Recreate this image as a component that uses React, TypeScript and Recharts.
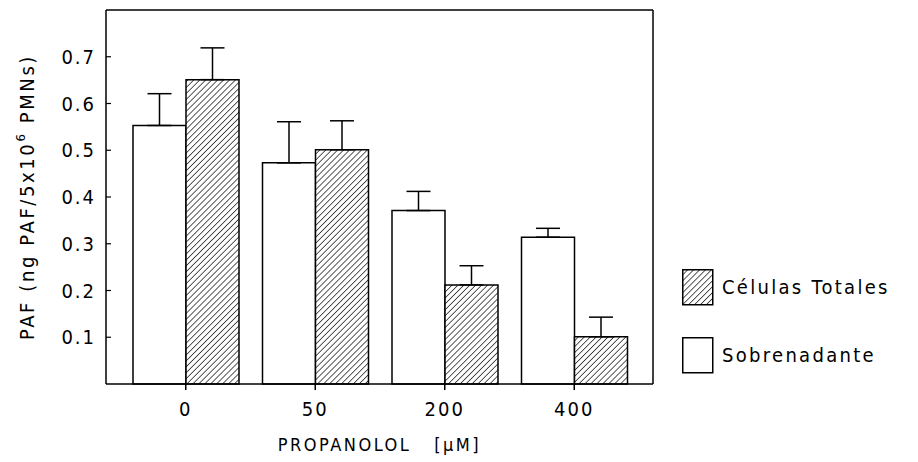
import React from "react";
import { BarChart, Bar, XAxis, YAxis, ErrorBar, Legend, ReferenceLine } from "recharts";

const doses = ["0", "50", "200", "400"];
const sobrenadante = [0.553, 0.473, 0.371, 0.314];
const sobrenadanteErr = [0.068, 0.088, 0.041, 0.019];
const celulas = [0.651, 0.501, 0.212, 0.101];
const celulasErr = [0.068, 0.062, 0.041, 0.042];
const yTicks = [0.1, 0.2, 0.3, 0.4, 0.5, 0.6, 0.7];
const yMax = 0.8;

const data = doses.map((d, i) => ({
  dose: d,
  sob: sobrenadante[i],
  sobErr: [0, sobrenadanteErr[i]],
  cel: celulas[i],
  celErr: [0, celulasErr[i]],
}));

const FONT = "'Liberation Sans Narrow', 'DejaVu Sans Condensed', sans-serif";

const HatchDef = ({ id }: { id: string }) => (
  <defs>
    <pattern id={id} patternUnits="userSpaceOnUse" width={4.2} height={4.2} patternTransform="rotate(45)">
      <rect width={4.2} height={4.2} fill="#fff" />
      <line x1={0} y1={0} x2={0} y2={4.2} stroke="#000" strokeWidth={1.3} />
    </pattern>
  </defs>
);

const renderLegend = (props: any) => {
  const items = [...(props.payload || [])].sort((a: any, b: any) =>
    a.dataKey === "cel" ? -1 : b.dataKey === "cel" ? 1 : 0
  );
  return (
    <div style={{ display: "flex", flexDirection: "column", gap: 32 }}>
      {items.map((it: any) => {
        const hatched = it.dataKey === "cel";
        return (
          <div key={it.value} style={{ display: "flex", alignItems: "center", height: 36 }}>
            <svg width={32} height={37} style={{ display: "block" }}>
              {hatched && <HatchDef id="hatchLegend" />}
              <rect x={0.75} y={0.75} width={30} height={35} fill={hatched ? "url(#hatchLegend)" : "#fff"} stroke="#000" strokeWidth={1.5} />
            </svg>
            <span style={{ marginLeft: 8, fontFamily: FONT, fontSize: 20, letterSpacing: 2.3, color: "#000" }}>{it.value}</span>
          </div>
        );
      })}
    </div>
  );
};

const YLabel = (props: any) => {
  const vb = props.viewBox || { x: 0, y: 0, width: 0, height: 0 };
  const cx = 27;
  const cy = vb.y + vb.height / 2;
  return (
    <text
      x={cx}
      y={cy}
      transform={`rotate(-90, ${cx}, ${cy})`}
      textAnchor="middle"
      dominantBaseline="central"
      fontFamily={FONT}
      fontSize={20}
      letterSpacing={2.6}
      fill="#000"
    >
      <tspan>PAF (ng PAF/5x10</tspan>
      <tspan dy={-7} fontSize={13}>6</tspan>
      <tspan dy={7}>{"\u00a0PMNs)"}</tspan>
    </text>
  );
};

const XLabel = (props: any) => {
  const vb = props.viewBox || { x: 0, y: 0, width: 0, height: 0 };
  return (
    <text
      x={vb.x + vb.width / 2}
      y={vb.y + 60}
      textAnchor="middle"
      dominantBaseline="central"
      fontFamily={FONT}
      fontSize={18}
      letterSpacing={2.5}
      fill="#000"
    >
      {"PROPANOLOL\u00a0\u00a0\u00a0[\u03bcM]"}
    </text>
  );
};

export default function App() {
  return (
    <div style={{ position: "absolute", left: 0, top: 0, width: 918, height: 462, background: "#fff" }}>
      <BarChart
        width={918}
        height={462}
        data={data}
        margin={{ top: 10, right: 264, left: 0, bottom: 8 }}
        barSize={53}
        barGap={0}
      >
        <HatchDef id="hatch" />
        <XAxis
          dataKey="dose"
          padding={{ left: 15, right: 14 }}
          height={70}
          tickSize={6}
          tickMargin={12}
          axisLine={{ stroke: "#000", strokeWidth: 1.5 }}
          tickLine={{ stroke: "#000", strokeWidth: 1.5 }}
          tick={{ fill: "#000", fontFamily: FONT, fontSize: 20, letterSpacing: 2 }}
          label={{ content: XLabel }}
        />
        <YAxis
          domain={[0, yMax]}
          ticks={yTicks}
          width={106}
          tickSize={-5}
          tickMargin={15}
          tickFormatter={(v: number) => v.toFixed(1)}
          axisLine={{ stroke: "#000", strokeWidth: 1.5 }}
          tickLine={{ stroke: "#000", strokeWidth: 1.2 }}
          tick={{ fill: "#000", fontFamily: FONT, fontSize: 20, letterSpacing: 2 }}
          label={{ content: YLabel }}
        />
        <ReferenceLine y={yMax} stroke="#000" strokeWidth={1.5} ifOverflow="visible" />
        <Legend
          layout="horizontal"
          align="center"
          verticalAlign="middle"
          content={renderLegend}
          wrapperStyle={{ position: "absolute", left: 682, top: 269, width: 236, height: 110 }}
        />
        <Bar dataKey="sob" name="Sobrenadante" fill="#fff" stroke="#000" strokeWidth={1.5} isAnimationActive={false}>
          <ErrorBar dataKey="sobErr" direction="y" width={12} stroke="#000" strokeWidth={1.5} isAnimationActive={false} />
        </Bar>
        <Bar dataKey="cel" name="Células Totales" fill="url(#hatch)" stroke="#000" strokeWidth={1.5} isAnimationActive={false}>
          <ErrorBar dataKey="celErr" direction="y" width={12} stroke="#000" strokeWidth={1.5} isAnimationActive={false} />
        </Bar>
        <YAxis
          yAxisId="right"
          orientation="right"
          width={1}
          domain={[0, yMax]}
          tick={false}
          tickLine={false}
          axisLine={{ stroke: "#000", strokeWidth: 1.5 }}
        />
      </BarChart>
    </div>
  );
}
